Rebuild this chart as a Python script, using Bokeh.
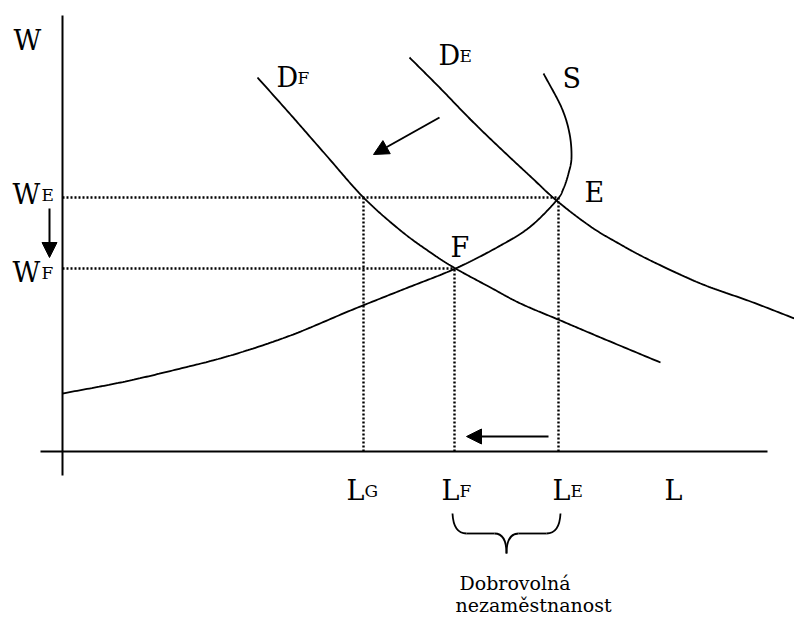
import numpy as np
from bokeh.plotting import figure
from bokeh.models import Range1d, Arrow, NormalHead
from bokeh.core.properties import value
from bokeh.embed import file_html
from bokeh.resources import INLINE

# ---------------- data (L = quantity of labour, W = wage) ----------------
# supply curve S (backward bending at the top)
s_L = [0, 58, 110, 168, 228, 288, 338, 393, 438, 468, 494, 501, 506, 509, 507, 499, 481]
s_W = [58, 69, 81, 96, 116, 141, 161, 183, 206, 225, 251, 263, 278, 294, 318, 344, 378]
# original demand D_E
de_L = [347, 378, 408, 438, 468, 494, 528, 558, 588, 638, 688, 732]
de_W = [394, 363, 332, 303, 275, 251, 225, 207, 191, 168, 150, 133]
# shifted demand D_F
df_L = [195, 228, 263, 301, 338, 368, 393, 428, 458, 498, 538, 598]
df_W = [374, 337, 297, 254, 221, 199, 183, 164, 148, 131, 114, 89]
# equilibrium values
W_E, W_F = 254, 183
L_G, L_F, L_E = 301, 392, 496

# labels
main_txt = ["W", "W", "W", "D", "D", "S", "E", "F", "L", "L", "L", "L"]
sub_txt = ["E", "F", "F", "E", "G", "F", "E"]
note_lines = ["Dobrovolná", "nezaměstnanost"]

# ---------------- layout ----------------
X0, Y0 = 62, 451          # picture pixel of the origin
W_PX, H_PX = 794, 617
p = figure(width=W_PX, height=H_PX, output_backend="svg", toolbar_location=None,
           x_range=Range1d(-X0, W_PX - X0), y_range=Range1d(Y0 - H_PX, Y0),
           x_axis_type=None, y_axis_type=None, min_border=0)
p.grid.visible = False
p.outline_line_color = None
p.background_fill_color = "white"
p.border_fill_color = "white"


def smooth(xs, ys, n=24):
    P = np.column_stack([xs, ys]).astype(float)
    P = np.vstack([2 * P[0] - P[1], P, 2 * P[-1] - P[-2]])
    out = []
    t = np.linspace(0, 1, n, endpoint=False)[:, None]
    for i in range(1, len(P) - 2):
        p0, p1, p2, p3 = P[i - 1], P[i], P[i + 1], P[i + 2]
        seg = 0.5 * ((2 * p1) + (-p0 + p2) * t + (2 * p0 - 5 * p1 + 4 * p2 - p3) * t ** 2
                     + (-p0 + 3 * p1 - 3 * p2 + p3) * t ** 3)
        out.append(seg)
    out.append(P[-2][None, :])
    a = np.vstack(out)
    return a[:, 0], a[:, 1]


def px(xs, ys):
    return [x - X0 for x in xs], [Y0 - y for y in ys]


# axes
p.line([0, 0], [-24, 436], line_color="black", line_width=2)
p.line([-22, 705], [0, 0], line_color="black", line_width=2)

# dotted guides
dot = dict(line_color="black", line_width=2.4, line_dash="2 2")
p.line([0, L_E], [W_E, W_E], **dot)
p.line([0, L_F], [W_F, W_F], **dot)
p.line([L_G, L_G], [0, W_E], **dot)
p.line([L_F, L_F], [0, W_F], **dot)
p.line([L_E, L_E], [0, W_E], **dot)

# curves
for xs, ys in [(s_L, s_W), (de_L, de_W), (df_L, df_W)]:
    sx, sy = smooth(xs, ys)
    p.line(sx, sy, line_color="black", line_width=1.8)

# arrows
for (xa, ya, xb, yb) in [(377, 334, 311, 297), (-13, 243, -13, 194), (486, 15, 404, 15)]:
    p.add_layout(Arrow(end=NormalHead(size=15, fill_color="black", line_color="black", line_width=1),
                       x_start=xa, y_start=ya, x_end=xb, y_end=yb,
                       line_color="black", line_width=2))

# brace under L_F .. L_E
top, bar, tip = -62, -82, -102
xm = (L_F + L_E) / 2
r = 12
bk = dict(line_color="black", line_width=1.8)
p.quadratic(x0=[L_F - 2, L_E + 2], y0=[top, top], x1=[L_F + r, L_E - r], y1=[bar, bar],
            cx=[L_F - 1, L_E + 1], cy=[bar, bar], **bk)
p.line([L_F + r, xm - r], [bar, bar], **bk)
p.line([xm + r, L_E - r], [bar, bar], **bk)
p.quadratic(x0=[xm - r, xm + r], y0=[bar, bar], x1=[xm, xm], y1=[tip, tip],
            cx=[xm, xm], cy=[bar, bar], **bk)

# labels (positions given in picture pixels)
font = value("DejaVu Serif")
mx, my = px([13, 12, 12, 276, 438, 562, 584, 450, 346, 441, 552, 664],
            [40, 194, 272, 77, 55, 78, 192, 247, 490, 490, 490, 490])
p.text(mx, my, text=main_txt, text_font=font, text_font_size="27px",
       text_baseline="alphabetic", text_align="left", text_color="black")
sx_, sy_ = px([41, 41, 297, 459, 364, 459, 570],
              [194, 272, 77, 55, 490, 490, 490])
p.text(sx_, sy_, text=sub_txt, text_font=font, text_font_size="17px",
       text_baseline="alphabetic", text_align="left", text_color="black")
nx, ny = px([459, 455], [582, 604])
p.text(nx, ny, text=note_lines, text_font=font,
       text_font_size="19px", text_baseline="alphabetic", text_align="left", text_color="black")

open("out.html", "w").write(file_html(p, INLINE))
